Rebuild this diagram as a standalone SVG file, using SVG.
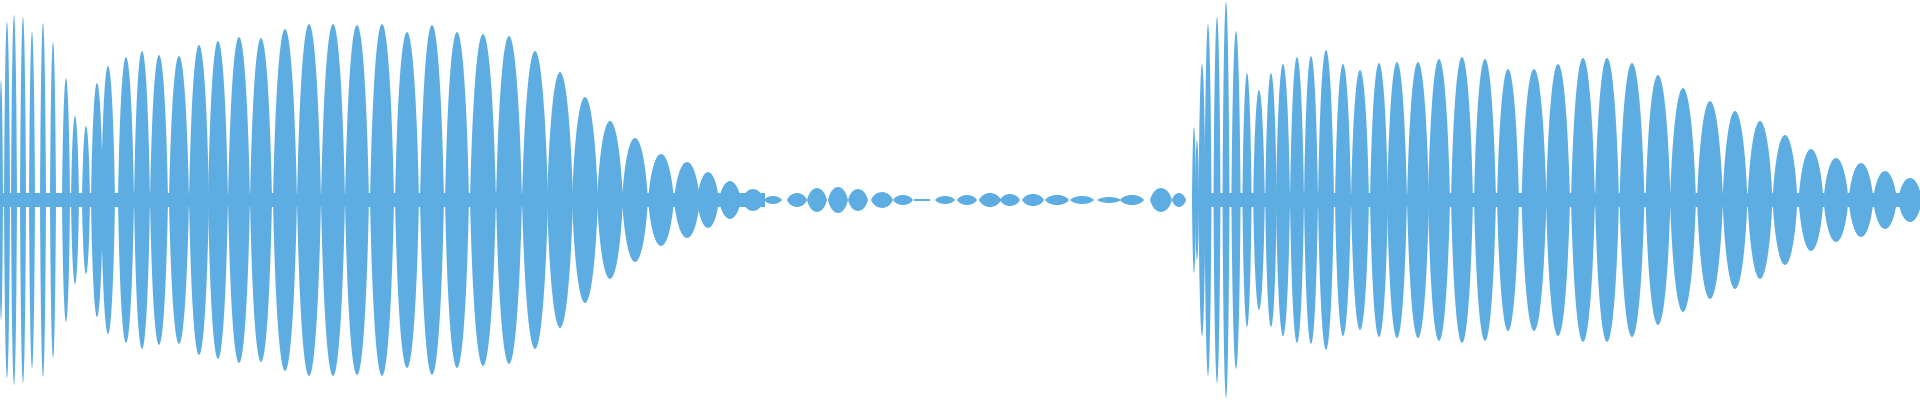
<svg xmlns="http://www.w3.org/2000/svg" xmlns:xlink="http://www.w3.org/1999/xlink" width="1920" height="400" viewBox="0 0 1920 400">
<style>.w{fill:#5dade2;stroke:none}</style>
<defs><path id="l" class="w" d="M-1 0C-0.6 -1.333 0.6 -1.333 1 0C0.6 1.333 -0.6 1.333 -1 0Z"/></defs>
<rect width="1920" height="400" fill="#ffffff"/>
<g id="waveform" class="w">
<rect x="0" y="193" width="765" height="14"/>
<rect x="1192" y="193" width="728" height="14"/>
<use href="#l" transform="translate(1,200) scale(2,120)"/>
<use href="#l" transform="translate(7,200) scale(3,178)"/>
<use href="#l" transform="translate(14,200) scale(3,185)"/>
<use href="#l" transform="translate(23,200) scale(3,183)"/>
<use href="#l" transform="translate(32,200) scale(3,168)"/>
<use href="#l" transform="translate(43,200) scale(3,177)"/>
<use href="#l" transform="translate(53,200) scale(3,158)"/>
<use href="#l" transform="translate(66,200) scale(4,122)"/>
<use href="#l" transform="translate(75,200) scale(4,84)"/>
<use href="#l" transform="translate(86,200) scale(4,74)"/>
<use href="#l" transform="translate(97,200) scale(6,117)"/>
<use href="#l" transform="translate(108,200) scale(7,134)"/>
<use href="#l" transform="translate(126,200) scale(8,143)"/>
<use href="#l" transform="translate(142,200) scale(8,149)"/>
<use href="#l" transform="translate(159,200) scale(9,145)"/>
<use href="#l" transform="translate(179,200) scale(10,144)"/>
<use href="#l" transform="translate(199,200) scale(10,155)"/>
<use href="#l" transform="translate(218,200) scale(10,159)"/>
<use href="#l" transform="translate(239,200) scale(11,163)"/>
<use href="#l" transform="translate(261,200) scale(11,162)"/>
<use href="#l" transform="translate(285,200) scale(12,171)"/>
<use href="#l" transform="translate(309,200) scale(12,176)"/>
<use href="#l" transform="translate(333,200) scale(12,176)"/>
<use href="#l" transform="translate(357,200) scale(12,175)"/>
<use href="#l" transform="translate(382,200) scale(12,176)"/>
<use href="#l" transform="translate(407,200) scale(12,168)"/>
<use href="#l" transform="translate(432,200) scale(12,175)"/>
<use href="#l" transform="translate(457,200) scale(12,168)"/>
<use href="#l" transform="translate(483,200) scale(13,166)"/>
<use href="#l" transform="translate(509,200) scale(13,164)"/>
<use href="#l" transform="translate(535,200) scale(13,149)"/>
<use href="#l" transform="translate(560,200) scale(13,128)"/>
<use href="#l" transform="translate(585,200) scale(13,103)"/>
<use href="#l" transform="translate(610,200) scale(13,79)"/>
<use href="#l" transform="translate(635,200) scale(13,62)"/>
<use href="#l" transform="translate(661,200) scale(13,46)"/>
<use href="#l" transform="translate(687,200) scale(13,38)"/>
<use href="#l" transform="translate(708,200) scale(11,28)"/>
<use href="#l" transform="translate(730,200) scale(11,19)"/>
<use href="#l" transform="translate(753,200) scale(11,11)"/>
<use href="#l" transform="translate(773,200) scale(9,4)"/>
<use href="#l" transform="translate(797,200) scale(10,7)"/>
<use href="#l" transform="translate(817,200) scale(10,12)"/>
<use href="#l" transform="translate(838,200) scale(10,13)"/>
<use href="#l" transform="translate(858,200) scale(10,11)"/>
<use href="#l" transform="translate(882,200) scale(11,8)"/>
<use href="#l" transform="translate(903,200) scale(10,5)"/>
<rect x="914" y="199" width="16" height="2"/>
<use href="#l" transform="translate(945,200) scale(10,4)"/>
<use href="#l" transform="translate(967,200) scale(10,5)"/>
<use href="#l" transform="translate(990,200) scale(11,7)"/>
<use href="#l" transform="translate(1010,200) scale(10,6)"/>
<use href="#l" transform="translate(1033,200) scale(11,6)"/>
<use href="#l" transform="translate(1057,200) scale(12,5)"/>
<use href="#l" transform="translate(1082,200) scale(12,4)"/>
<use href="#l" transform="translate(1109,200) scale(12,3)"/>
<use href="#l" transform="translate(1132,200) scale(12,5)"/>
<use href="#l" transform="translate(1161,200) scale(11,12)"/>
<use href="#l" transform="translate(1179,200) scale(7,7)"/>
<use href="#l" transform="translate(1194,200) scale(2,73)"/>
<use href="#l" transform="translate(1197,200) scale(2,60)"/>
<use href="#l" transform="translate(1202,200) scale(3.5,136)"/>
<use href="#l" transform="translate(1208,200) scale(3.5,176)"/>
<use href="#l" transform="translate(1217,200) scale(3.5,183)"/>
<use href="#l" transform="translate(1226,200) scale(3.5,198)"/>
<use href="#l" transform="translate(1236,200) scale(4.6,169)"/>
<use href="#l" transform="translate(1247,200) scale(4.6,127)"/>
<use href="#l" transform="translate(1259,200) scale(5.8,110)"/>
<use href="#l" transform="translate(1271,200) scale(5.8,127)"/>
<use href="#l" transform="translate(1283,200) scale(7,136)"/>
<use href="#l" transform="translate(1297,200) scale(7,143)"/>
<use href="#l" transform="translate(1311,200) scale(7,144)"/>
<use href="#l" transform="translate(1326,200) scale(8,150)"/>
<use href="#l" transform="translate(1343,200) scale(8,136)"/>
<use href="#l" transform="translate(1360,200) scale(9,130)"/>
<use href="#l" transform="translate(1379,200) scale(9,137)"/>
<use href="#l" transform="translate(1397,200) scale(10,138)"/>
<use href="#l" transform="translate(1418,200) scale(11,138)"/>
<use href="#l" transform="translate(1439,200) scale(11,141)"/>
<use href="#l" transform="translate(1462,200) scale(11,143)"/>
<use href="#l" transform="translate(1485,200) scale(11,141)"/>
<use href="#l" transform="translate(1508,200) scale(11,131)"/>
<use href="#l" transform="translate(1534,200) scale(12.5,131)"/>
<use href="#l" transform="translate(1558,200) scale(12,136)"/>
<use href="#l" transform="translate(1583,200) scale(12,142)"/>
<use href="#l" transform="translate(1607,200) scale(12,142)"/>
<use href="#l" transform="translate(1632,200) scale(12.5,137)"/>
<use href="#l" transform="translate(1658,200) scale(12.5,125)"/>
<use href="#l" transform="translate(1683,200) scale(13,112)"/>
<use href="#l" transform="translate(1710,200) scale(13,99)"/>
<use href="#l" transform="translate(1735,200) scale(12.5,89)"/>
<use href="#l" transform="translate(1760,200) scale(12.5,79)"/>
<use href="#l" transform="translate(1785,200) scale(12.5,65)"/>
<use href="#l" transform="translate(1811,200) scale(12.5,51)"/>
<use href="#l" transform="translate(1836,200) scale(12.5,42)"/>
<use href="#l" transform="translate(1861,200) scale(12.5,37)"/>
<use href="#l" transform="translate(1885,200) scale(12,29)"/>
<use href="#l" transform="translate(1910,200) scale(12,22)"/>
</g>
</svg>
